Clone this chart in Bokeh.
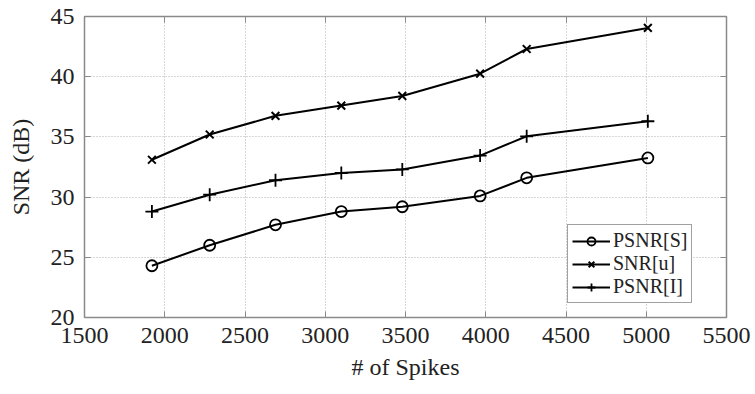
from bokeh.plotting import figure
from bokeh.models import LinearAxis, FixedTicker, Range1d, Legend, LegendItem, CustomJSTickFormatter
from bokeh.embed import file_html
from bokeh.resources import INLINE

# Data
spikes = [1920, 2280, 2690, 3100, 3480, 3965, 4255, 5010]
psnr_s = [24.3, 26.0, 27.7, 28.8, 29.2, 30.1, 31.6, 33.25]
snr_u = [33.1, 35.2, 36.75, 37.6, 38.4, 40.25, 42.3, 44.05]
psnr_i = [28.8, 30.2, 31.4, 32.0, 32.3, 33.45, 35.05, 36.3]
x_ticks = [1500, 2000, 2500, 3000, 3500, 4000, 4500, 5000, 5500]
y_ticks = [20, 25, 30, 35, 40, 45]
labels = ["PSNR[S]", "SNR[u]", "PSNR[I]"]

FONT = "Liberation Serif"
GRAY = "#8a8a8a"
TXT = "#222222"

p = figure(width=755, height=394, output_backend="svg", toolbar_location=None,
           x_range=Range1d(1500, 5500), y_range=Range1d(20, 45),
           min_border_left=84, min_border_right=29, min_border_top=16,
           min_border_bottom=77, x_axis_label="# of Spikes", y_axis_label="SNR (dB)")

p.background_fill_color = "white"
p.border_fill_color = "white"
p.outline_line_color = GRAY
p.outline_line_width = 1.5

for ax in (p.xaxis[0], p.yaxis[0]):
    ax.axis_line_color = None
    ax.major_tick_in = 6
    ax.major_tick_out = 0
    ax.major_tick_line_color = GRAY
    ax.minor_tick_line_color = None
    ax.major_label_text_font = FONT
    ax.major_label_text_font_size = "24px"
    ax.major_label_text_color = TXT
    ax.axis_label_text_font = FONT
    ax.axis_label_text_font_size = "24px"
    ax.axis_label_text_font_style = "normal"
    ax.axis_label_text_color = TXT
    ax.major_label_standoff = 10

p.xaxis[0].axis_label_standoff = 8
p.yaxis[0].axis_label_standoff = 14
p.xaxis[0].ticker = FixedTicker(ticks=x_ticks)
p.yaxis[0].ticker = FixedTicker(ticks=y_ticks)

blank = CustomJSTickFormatter(code="return ''")
top = LinearAxis(ticker=FixedTicker(ticks=x_ticks), formatter=blank,
                 axis_line_color=None, major_tick_in=6, major_tick_out=0,
                 major_tick_line_color=GRAY, minor_tick_line_color=None,
                 major_label_standoff=0)
right = LinearAxis(ticker=FixedTicker(ticks=y_ticks), formatter=blank,
                   axis_line_color=None, major_tick_in=6, major_tick_out=0,
                   major_tick_line_color=GRAY, minor_tick_line_color=None,
                   major_label_standoff=0)
p.add_layout(top, "above")
p.add_layout(right, "right")

p.xgrid.ticker = FixedTicker(ticks=x_ticks)
p.ygrid.ticker = FixedTicker(ticks=y_ticks)
for g in (p.xgrid[0], p.ygrid[0]):
    g.grid_line_color = "#b0b0b0"
    g.grid_line_dash = "1 2"
    g.grid_line_width = 1

lw = 2
l1 = p.line(spikes, psnr_s, line_color="black", line_width=lw)
m1 = p.scatter(spikes, psnr_s, marker="circle", size=11, fill_color=None,
               line_color="black", line_width=1.8)
l2 = p.line(spikes, snr_u, line_color="black", line_width=lw)
m2 = p.scatter(spikes, snr_u, marker="x", size=11, line_color="black", line_width=2)
l3 = p.line(spikes, psnr_i, line_color="black", line_width=lw)
m3 = p.scatter(spikes, psnr_i, marker="cross", size=13, line_color="black", line_width=1.8)

legend = Legend(items=[LegendItem(label=labels[0], renderers=[l1, m1]),
                       LegendItem(label=labels[1], renderers=[l2, m2]),
                       LegendItem(label=labels[2], renderers=[l3, m3])],
                location=(483, 14))
legend.label_text_font = FONT
legend.label_text_font_size = "20px"
legend.label_text_color = TXT
legend.label_height = 20
legend.glyph_width = 38
legend.glyph_height = 20
legend.label_standoff = 3
legend.spacing = 0
legend.padding = 4
legend.margin = 0
legend.border_line_color = "#444444"
legend.border_line_width = 1
legend.background_fill_color = "white"
legend.background_fill_alpha = 1
p.add_layout(legend, "center")

open("out.html", "w").write(file_html(p, INLINE))
